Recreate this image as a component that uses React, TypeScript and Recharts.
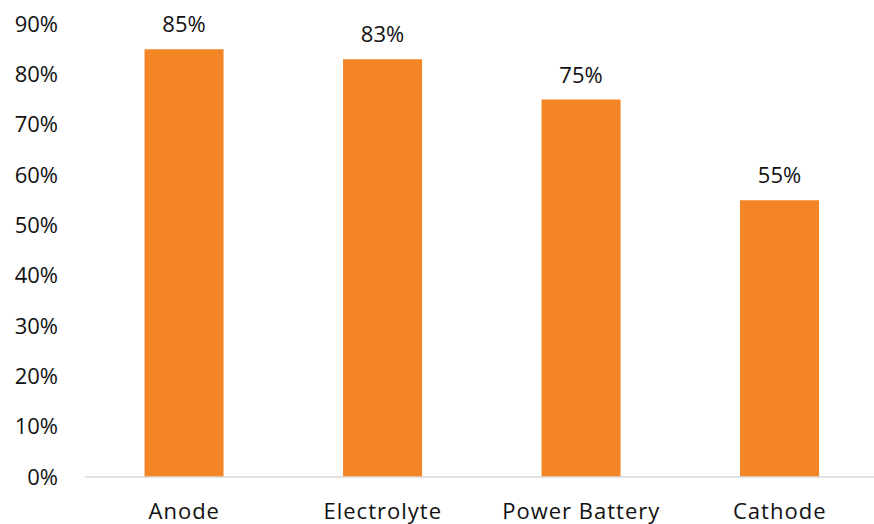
import React from 'react';
import { BarChart, Bar, XAxis, YAxis, LabelList } from 'recharts';

// share of each battery segment
const categories = ['Anode', 'Electrolyte', 'Power Battery', 'Cathode'];
const shares = [0.85, 0.83, 0.75, 0.55];
const yTicks = [0, 0.1, 0.2, 0.3, 0.4, 0.5, 0.6, 0.7, 0.8, 0.9];

const data = categories.map((name, i) => ({ name, share: shares[i] }));

const pct = (v: number) => `${Math.round(v * 100)}%`;
const FONT = '"Open Sans", "Noto Sans", sans-serif';

export default function App() {
  return (
    <div style={{ position: 'absolute', left: 0, top: 0, width: 874, height: 524, overflow: 'hidden', background: '#fff' }}>
      <BarChart
        width={880}
        height={524}
        data={data}
        margin={{ top: 24, right: 1, bottom: 0, left: 0 }}
        barCategoryGap="30%"
      >
        <XAxis
          dataKey="name"
          height={47}
          axisLine={{ stroke: '#d9d9d9', strokeWidth: 1.5 }}
          tickLine={false}
          tickSize={0}
          tickMargin={26}
          tick={{ fill: '#111', fontSize: 22, fontFamily: FONT, letterSpacing: 1 }}
          interval={0}
        />
        <YAxis
          width={85}
          domain={[0, 0.9]}
          ticks={yTicks}
          tickFormatter={pct}
          axisLine={false}
          tickLine={false}
          tickSize={0}
          tickMargin={27}
          tick={{ fill: '#111', fontSize: 22, fontFamily: FONT }}
        />
        <Bar dataKey="share" fill="#f48526" isAnimationActive={false}>
          <LabelList
            dataKey="share"
            position="top"
            offset={17}
            formatter={(v: number) => pct(v)}
            style={{ fill: '#111', fontSize: 22, fontFamily: FONT }}
          />
        </Bar>
      </BarChart>
    </div>
  );
}
